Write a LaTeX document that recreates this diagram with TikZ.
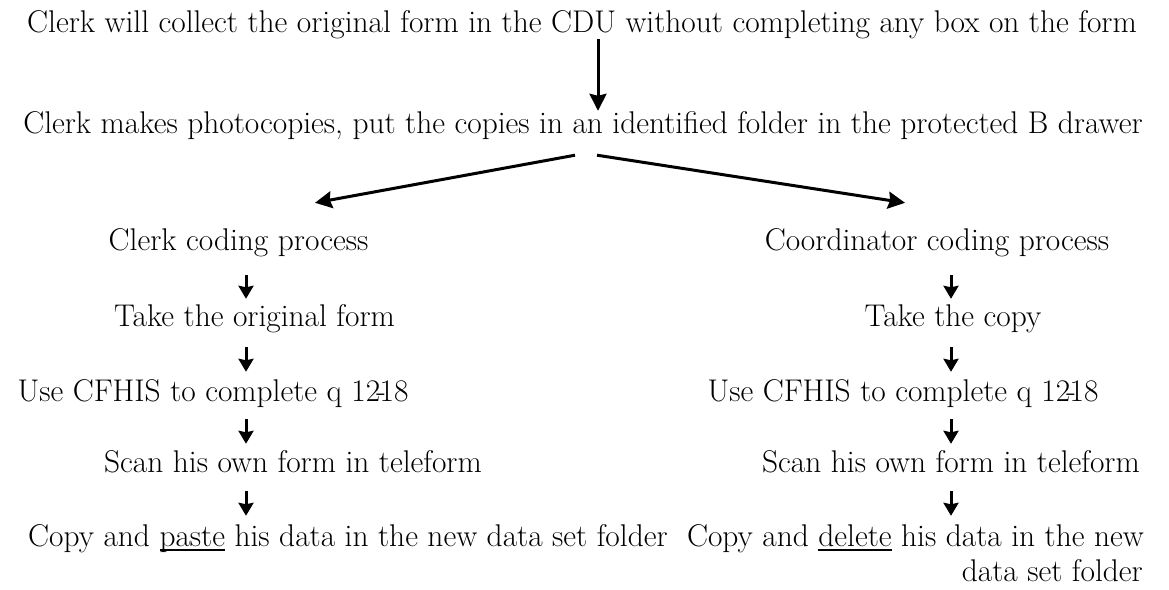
\documentclass[tikz,border=0pt]{standalone}
\usepackage{fontspec}
\usetikzlibrary{arrows.meta}
\newcommand\myul[1]{\setbox0\hbox{#1}\rlap{\rule[-5pt]{\wd0}{1.6pt}}\box0\relax}
\newcommand\qrange{12\kern-0.12em-\kern-0.2em18}
\tikzset{
  txt/.style={inner sep=0pt, anchor=base, text height=22pt, text depth=7pt, font=\fontsize{31.4}{35}\selectfont},
  bigarrow/.style={line width=3pt, -{Stealth[width=17pt,length=17pt,inset=2pt]}},
  smallarrow/.style={line width=3pt, -{Stealth[width=15pt,length=13pt,inset=1.5pt]}}
}
\begin{document}
\begin{tikzpicture}[x=1pt,y=-1pt]
\useasboundingbox (0,0) rectangle (1169,589);
\fill[white] (0,0) rectangle (1169,589);
\node[txt] (l1) at (582,32) {Clerk will collect the original form in the CDU without completing any box on the form};
\node[txt] (l2) at (583,133) {Clerk makes photocopies, put the copies in an identified folder in the protected B drawer};
% left column
\node[txt] (c1) at (238.5,250) {Clerk coding process};
\node[txt] (c2) at (254.5,326) {Take the original form};
\node[txt] (c3) at (213,401) {Use CFHIS to complete q \qrange};
\node[txt] (c4) at (293,472) {Scan his own form in teleform};
\node[txt, anchor=base west] (c5) at (28,546) {Copy and \myul{paste} his data in the new data set folder};
% right column
\node[txt] (r1) at (937,250) {Coordinator coding process};
\node[txt] (r2) at (953,326) {Take the copy};
\node[txt] (r3) at (903,401) {Use CFHIS to complete q \qrange};
\node[txt] (r4) at (951,472) {Scan his own form in teleform};
\node[txt, anchor=base east] (r5) at (1144,546) {Copy and \myul{delete} his data in the new};
\node[txt, anchor=base east] (r5b) at (1143,581) {data set folder};
\coordinate (colA) at (598,0);
\coordinate (colL) at (246,0);
\coordinate (colR) at (951,0);
% connectors
\draw[bigarrow] (l1.south -| colA) -- (l2.north -| colA);
\draw[bigarrow] ([shift={(-8,15)}]l2.south) -- ([shift={(76.5,-25)}]c1.north);
\draw[bigarrow] ([shift={(14,15)}]l2.south) -- ([shift={(-32,-25)}]r1.north);
\foreach \a/\b/\s/\e in {c1/c2/-18/5, c2/c3/-14/7, c3/c4/-11/6, c4/c5/-12/8}{
  \draw[smallarrow] ([yshift=\s pt]\a.south -| colL) -- ([yshift=\e pt]\b.north -| colL);
}
\foreach \a/\b/\s/\e in {r1/r2/-18/5, r2/r3/-14/7, r3/r4/-11/6, r4/r5/-12/8}{
  \draw[smallarrow] ([yshift=\s pt]\a.south -| colR) -- ([yshift=\e pt]\b.north -| colR);
}
\end{tikzpicture}
\end{document}
